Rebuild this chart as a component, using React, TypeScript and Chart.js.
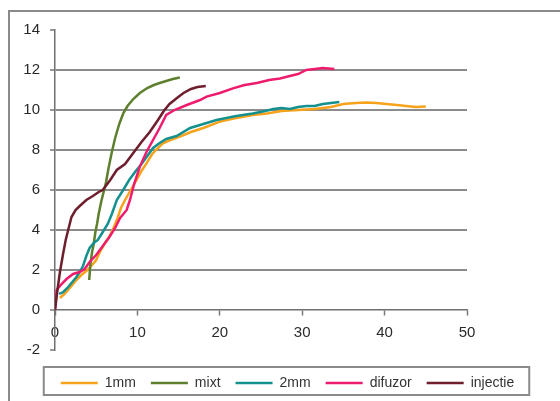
import React, { useEffect, useRef } from "react";
import { Chart, registerables } from "chart.js";

Chart.register(...registerables);

// ---- data -------------------------------------------------------------
const seriesNames = ["1mm", "mixt", "2mm", "difuzor", "injectie"];
const seriesColors = ["#F7A21B", "#5E7F2E", "#14908F", "#EE1C6E", "#6E1E2D"];

const xTickValues = [0, 10, 20, 30, 40, 50];
const yTickValues = [-2, 0, 2, 4, 6, 8, 10, 12, 14];

const mm1X = [0.6, 1.0, 1.5, 2.0, 2.6, 3.2, 3.8, 4.3, 5.0, 5.5, 6.0, 6.5, 7.0, 7.6, 8.0, 8.5, 9.2, 9.9, 10.5, 11.1, 11.8, 12.5, 13.1, 14.0, 15.15, 16.5, 18, 20, 22, 24, 25.7, 27.5, 29.5, 31.5, 33.5, 35, 36.5, 37.8, 39, 40.2, 41.5, 42.6, 43.8, 45];
const mm1Y = [0.6, 0.75, 0.95, 1.2, 1.5, 1.75, 1.95, 2.15, 2.5, 2.95, 3.3, 3.6, 4.0, 4.6, 5.1, 5.5, 6.0, 6.5, 6.95, 7.33, 7.8, 8.1, 8.33, 8.5, 8.67, 8.9, 9.1, 9.42, 9.6, 9.75, 9.83, 9.95, 10.0, 10.05, 10.15, 10.3, 10.35, 10.37, 10.35, 10.3, 10.25, 10.2, 10.15, 10.17];

const mixtX = [4.15, 4.3, 4.5, 4.7, 4.9, 5.1, 5.3, 5.6, 5.9, 6.2, 6.5, 6.9, 7.3, 7.8, 8.3, 8.8, 9.5, 10.3, 11.2, 12.0, 12.7, 13.5, 14.3, 15.15];
const mixtY = [1.5, 2.3, 2.9, 3.3, 3.9, 4.3, 4.8, 5.4, 5.9, 6.4, 7.1, 7.9, 8.6, 9.3, 9.85, 10.2, 10.55, 10.85, 11.1, 11.25, 11.35, 11.45, 11.55, 11.62];

const mm2X = [0.5, 1.0, 1.5, 2.0, 2.6, 3.0, 3.4, 3.8, 4.2, 4.7, 5.2, 5.8, 6.4, 6.9, 7.5, 8.2, 9.0, 9.8, 10.5, 11.2, 11.9, 12.7, 13.5, 14.75, 16.4, 18, 19.6, 22, 24, 25.5, 26.5, 27.5, 28.5, 29.5, 30.5, 31.5, 32.5, 33.5, 34.5];
const mm2Y = [0.8, 0.9, 1.1, 1.35, 1.65, 1.9, 2.2, 2.7, 3.1, 3.35, 3.5, 3.9, 4.3, 4.8, 5.5, 5.95, 6.5, 6.95, 7.3, 7.7, 8.1, 8.35, 8.55, 8.7, 9.1, 9.3, 9.5, 9.7, 9.83, 9.95, 10.05, 10.1, 10.05, 10.15, 10.2, 10.2, 10.3, 10.35, 10.4];

const difuzorX = [0, 0.2, 0.8, 1.4, 2.2, 3.0, 3.6, 4.2, 5.0, 5.8, 6.6, 7.3, 7.9, 8.4, 8.7, 9.1, 9.6, 10.3, 11.1, 11.9, 12.7, 13.5, 14.5, 16, 17.6, 18.4, 20, 21.6, 23, 24.5, 26, 27.3, 28.5, 29.5, 30.5, 31.5, 32.5, 33.9];
const difuzorY = [0, 1.0, 1.3, 1.55, 1.8, 1.9, 2.05, 2.4, 2.75, 3.2, 3.65, 4.1, 4.6, 4.85, 5.0, 5.5, 6.3, 7.17, 7.9, 8.5, 9.1, 9.75, 10.0, 10.25, 10.5, 10.67, 10.85, 11.08, 11.25, 11.35, 11.5, 11.58, 11.7, 11.8, 12.0, 12.05, 12.1, 12.05];

const injectieX = [0, 0.3, 0.6, 1.0, 1.3, 1.6, 2.0, 2.5, 3.0, 3.8, 4.6, 5.3, 5.8, 6.7, 7.5, 8.5, 9.5, 10.5, 11.5, 12.5, 13.2, 13.9, 14.8, 15.6, 16.5, 17.3, 18.3];
const injectieY = [0, 1.0, 1.9, 2.85, 3.5, 4.0, 4.65, 5.0, 5.2, 5.5, 5.7, 5.9, 6.0, 6.5, 7.0, 7.3, 7.85, 8.4, 8.9, 9.5, 9.95, 10.3, 10.6, 10.85, 11.05, 11.15, 11.2];

const seriesX = [mm1X, mixtX, mm2X, difuzorX, injectieX];
const seriesY = [mm1Y, mixtY, mm2Y, difuzorY, injectieY];

// ---- chart ------------------------------------------------------------
const FONT = "'Liberation Sans', Arial, sans-serif";

const legendFrame = {
  id: "legendFrame",
  afterDraw(chart: any) {
    const lg = chart.legend;
    if (!lg || !lg.legendHitBoxes || !lg.legendHitBoxes.length) return;
    const hb = lg.legendHitBoxes;
    const first = hb[0];
    const last = hb[hb.length - 1];
    const left = first.left - 17;
    const right = last.left + last.width + 15;
    const top = first.top - 9;
    const bottom = first.top + first.height + 5;
    const ctx = chart.ctx;
    ctx.save();
    ctx.strokeStyle = "#8a8a8a";
    ctx.lineWidth = 2;
    ctx.strokeRect(left, top, right - left, bottom - top);
    ctx.restore();
  },
};

export default function App() {
  const ref = useRef<HTMLCanvasElement | null>(null);

  useEffect(() => {
    if (!ref.current) return;
    const n = seriesNames.length;
    const datasets = seriesNames.map((name, i) => ({
      label: name,
      data: seriesX[i].map((x, j) => ({ x, y: seriesY[i][j] })),
      borderColor: seriesColors[i],
      backgroundColor: seriesColors[i],
      borderWidth: 2.5,
      pointRadius: 0,
      tension: 0,
      fill: false,
      order: n - i,
    }));

    const chart = new Chart(ref.current, {
      type: "line",
      data: { datasets },
      plugins: [legendFrame],
      options: {
        animation: false,
        responsive: false,
        devicePixelRatio: 1,
        layout: { padding: { left: 15, top: 30, right: 0, bottom: 1 } },
        plugins: {
          tooltip: { enabled: false },
          legend: {
            position: "bottom",
            title: { display: true, text: "", padding: 0, font: { size: 10, lineHeight: 1.1 } },
            labels: {
              usePointStyle: true,
              pointStyle: "line",
              pointStyleWidth: 37,
              padding: 15,
              color: "#333",
              font: { family: FONT, size: 14 },
              sort: (a: any, b: any) => a.datasetIndex - b.datasetIndex,
            },
          },
        },
        scales: {
          x: {
            type: "linear",
            position: { y: 0 } as any,
            min: 0,
            max: 50,
            afterBuildTicks: (s: any) => {
              s.ticks = xTickValues.map((v) => ({ value: v }));
            },
            grid: {
              drawOnChartArea: false,
              drawTicks: true,
              tickLength: 5,
              tickColor: "#777",
              tickWidth: 1.5,
            },
            border: { display: true, color: "#707070", width: 1.5 },
            ticks: {
              color: "#2a2a2a",
              padding: 9,
              font: { family: FONT, size: 15 },
              maxRotation: 0,
            },
          },
          y: {
            type: "linear",
            position: "left",
            min: -2,
            max: 14,
            afterBuildTicks: (s: any) => {
              s.ticks = yTickValues.map((v) => ({ value: v }));
            },
            afterFit: (s: any) => {
              s.width = 40;
            },
            grid: {
              color: (c: any) =>
                c.tick && (c.tick.value === 0 || c.tick.value === 14 || c.tick.value === -2)
                  ? "rgba(0,0,0,0)"
                  : "#8c8c8c",
              lineWidth: 2,
              drawTicks: true,
              tickLength: 5,
              tickColor: "#777",
              tickWidth: 1.5,
            },
            border: { display: true, color: "#707070", width: 1.5 },
            ticks: {
              color: "#2a2a2a",
              padding: 10,
              font: { family: FONT, size: 15 },
            },
          },
          yRight: {
            type: "linear",
            position: "right",
            display: true,
            afterFit: (s: any) => {
              s.width = 93;
            },
            grid: { display: false, drawTicks: false },
            border: { display: false },
            ticks: { display: false },
          },
        },
      },
    } as any);

    return () => chart.destroy();
  }, []);

  return (
    <div
      style={{
        position: "absolute",
        left: 0,
        top: 0,
        width: 560,
        height: 401,
        overflow: "hidden",
        background: "#fff",
      }}
    >
      <div
        style={{
          position: "absolute",
          left: 8,
          top: 10,
          width: 620,
          height: 440,
          border: "2px solid #8a8a8a",
        }}
      />
      <canvas
        ref={ref}
        width={560}
        height={401}
        style={{ position: "absolute", left: 0, top: 0, width: 560, height: 401 }}
      />
    </div>
  );
}
